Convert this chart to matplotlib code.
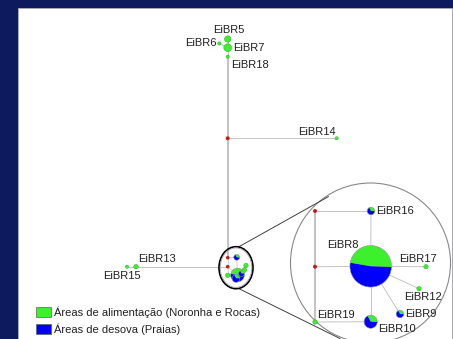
import matplotlib
matplotlib.use("Agg")
import matplotlib.pyplot as plt
from matplotlib.patches import Circle, Wedge, Ellipse, Rectangle
import numpy as np

plt.rcParams['font.family'] = ['Liberation Sans', 'DejaVu Sans']

# haplotipos: individuos em areas de alimentacao (verde) e de desova (azul)
haplotipos = ['EiBR5', 'EiBR6', 'EiBR7', 'EiBR18', 'EiBR14', 'EiBR13', 'EiBR15',
              'EiBR8', 'EiBR16', 'EiBR17', 'EiBR12', 'EiBR9', 'EiBR10', 'EiBR19']
n_alimentacao = [4, 1, 6, 1, 1, 2, 1, 43, 1, 1, 1, 1, 3, 1]
n_desova = [0, 0, 0, 0, 0, 0, 0, 47, 2, 0, 0, 2, 6, 0]

# ligacoes da rede (mv = vetores medianos)
ligacoes_rede = [('EiBR5', 'EiBR7'), ('EiBR6', 'EiBR7'), ('EiBR7', 'EiBR18'),
                 ('EiBR18', 'mv1'), ('mv1', 'EiBR14'), ('mv1', 'mvA'),
                 ('EiBR15', 'EiBR13'), ('EiBR13', 'mvB')]
ligacoes_zoom = [('mvA', 'mvB'), ('mvB', 'EiBR19'), ('mvA', 'EiBR16'),
                 ('EiBR16', 'EiBR8'), ('mvB', 'EiBR8'), ('EiBR8', 'EiBR17'),
                 ('EiBR8', 'EiBR12'), ('EiBR8', 'EiBR9'), ('EiBR8', 'EiBR10'),
                 ('EiBR19', 'EiBR10')]
grossas = [('EiBR18', 'mv1'), ('mv1', 'mvA'), ('mvA', 'mvB'), ('mvB', 'EiBR19')]
medianos = ['mv1', 'mvA', 'mvB']

# layout (pixels da figura, y para baixo)
pos_rede = {'EiBR5': (227.7, 39), 'EiBR6': (219.3, 43.5), 'EiBR7': (227.7, 47.7),
            'EiBR18': (227.7, 56.7), 'mv1': (227.7, 138.3), 'EiBR14': (336.7, 138.3),
            'EiBR13': (136, 266.7), 'EiBR15': (127, 266.7)}
pos_zoom = {'mvA': (315, 211), 'mvB': (315, 266.7), 'EiBR19': (315, 322),
            'EiBR16': (371, 211), 'EiBR8': (370.7, 266.3), 'EiBR17': (426, 266.7),
            'EiBR12': (419, 288.7), 'EiBR9': (400, 314), 'EiBR10': (370.7, 321.7)}
# mesma parte da rede, em tamanho reduzido dentro da elipse
pos_mini = {'mvA': (227.7, 257.7), 'mvB': (227.7, 266.7), 'EiBR19': (227.7, 275.3),
            'EiBR16': (236.7, 257.3), 'EiBR8': (237.5, 275), 'EiBR17': (246, 265.5),
            'EiBR12': (244.5, 270), 'EiBR9': (241.5, 273.5), 'EiBR10': (236, 278.5)}
rotulos = {'EiBR5': (229, 30, 'center'), 'EiBR6': (216.7, 43.5, 'right'),
           'EiBR7': (233, 48, 'left'), 'EiBR18': (230.7, 65, 'left'),
           'EiBR14': (316.7, 132.3, 'center'), 'EiBR13': (138.3, 259, 'left'),
           'EiBR15': (122, 276, 'center'), 'EiBR16': (375.7, 211, 'left'),
           'EiBR8': (343, 245.5, 'center'), 'EiBR17': (417.7, 259, 'center'),
           'EiBR12': (422.7, 297.3, 'center'), 'EiBR9': (405, 314, 'left'),
           'EiBR10': (378, 329, 'left'), 'EiBR19': (316.7, 315, 'left')}

verde = '#3cf02c'
azul = '#0000ff'
cinza = '#c4c4c4'


def desenhar_pie(ax, c, r, g, b):
    if b == 0:
        ax.add_patch(Circle(c, r, facecolor=verde, edgecolor='#20a020', lw=0.3, zorder=3))
        return
    t2 = 362
    t1 = t2 - 360 * g / (g + b)
    ax.add_patch(Wedge(c, r, t1, t2, facecolor=verde, edgecolor='none', zorder=3))
    ax.add_patch(Wedge(c, r, t2, t1 + 360, facecolor=azul, edgecolor='none', zorder=3))
    ax.add_patch(Circle(c, r, facecolor='none', edgecolor='#909090', lw=0.4, zorder=3))


fig = plt.figure(figsize=(4.53, 3.39), dpi=100, facecolor='#0d1b5e')
ax = fig.add_axes([0, 0, 1, 1])
ax.set_xlim(0, 453)
ax.set_ylim(339, 0)
ax.axis('off')

ax.add_patch(Rectangle((18, 8), 434, 340, facecolor='white', edgecolor='#b0b0b0', lw=0.6, zorder=0))

todas = {}
todas.update(pos_rede)
todas['mvA'] = pos_mini['mvA']
todas['mvB'] = pos_mini['mvB']

for a, b in ligacoes_rede:
    lw = 1.5 if (a, b) in grossas else 0.7
    ax.plot([todas[a][0], todas[b][0]], [todas[a][1], todas[b][1]], color=cinza, lw=lw, zorder=1)
for a, b in ligacoes_zoom:
    lw = 1.5 if (a, b) in grossas else 0.7
    pa, pb = pos_zoom[a], pos_zoom[b]
    ax.plot([pa[0], pb[0]], [pa[1], pb[1]], color=cinza, lw=lw, zorder=1)
    ma, mb = pos_mini[a], pos_mini[b]
    ax.plot([ma[0], mb[0]], [ma[1], mb[1]], color=cinza, lw=0.5, zorder=1)

for i, h in enumerate(haplotipos):
    g, b = n_alimentacao[i], n_desova[i]
    if h in pos_rede:
        desenhar_pie(ax, pos_rede[h], 1.6 * np.sqrt(g + b), g, b)
    else:
        r = 2.19 * np.sqrt(g + b)
        desenhar_pie(ax, pos_zoom[h], r, g, b)
        desenhar_pie(ax, pos_mini[h], 1.5 * np.sqrt(r), g, b)
    x, y, ha = rotulos[h]
    ax.text(x, y, h, ha=ha, va='center', fontsize=8, color='#202020', zorder=4)

for m in medianos:
    if m in pos_rede:
        ax.add_patch(Circle(pos_rede[m], 1.3, color='#c02020', zorder=3))
    else:
        ax.add_patch(Circle(pos_zoom[m], 1.3, color='#c02020', zorder=3))
        ax.add_patch(Circle(pos_mini[m], 1.1, color='#c02020', zorder=3))

# elipse pequena, circulo ampliado e linhas de ligacao
ax.add_patch(Ellipse((236, 267.7), 34, 42, facecolor='none', edgecolor='black', lw=1.2, zorder=5))
ax.add_patch(Ellipse((236, 267.7), 31.5, 39.5, facecolor='none', edgecolor='#a0a0a0', lw=0.6, zorder=5))
ax.add_patch(Circle((370.5, 263), 80, facecolor='none', edgecolor='#888888', lw=0.8, zorder=2))
ax.plot([239, 328.3], [246.7, 196.7], color='#404040', lw=0.7, zorder=2)
ax.plot([239, 340], [288.7, 338.5], color='#404040', lw=0.7, zorder=2)

# legenda
ax.add_patch(Rectangle((36, 306.7), 14.7, 10, facecolor=verde, edgecolor='#606060', lw=0.5, zorder=3))
ax.add_patch(Rectangle((36, 324.3), 14.7, 10, facecolor=azul, edgecolor='#606060', lw=0.5, zorder=3))
ax.text(54.3, 312, 'Áreas de alimentação (Noronha e Rocas)', ha='left', va='center', fontsize=8, color='#202020')
ax.text(54.3, 329.5, 'Áreas de desova (Praias)', ha='left', va='center', fontsize=8, color='#202020')

fig.savefig('out.png', dpi=100, facecolor=fig.get_facecolor())
